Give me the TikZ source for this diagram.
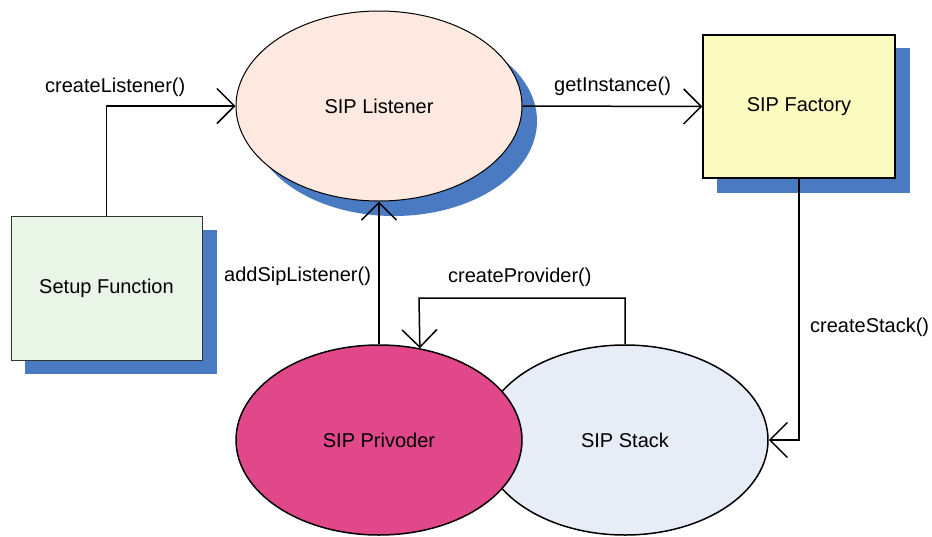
\documentclass[tikz,border=0pt]{standalone}
\usepackage{fontspec}
\setmainfont{Liberation Sans}
\usetikzlibrary{arrows.meta,shapes.geometric}

\definecolor{shadowblue}{HTML}{4A7AC2}
\definecolor{setupfill}{HTML}{E8F5E7}
\definecolor{listenerfill}{HTML}{FDE9DF}
\definecolor{factoryfill}{HTML}{FBFBC0}
\definecolor{providerfill}{HTML}{E0488A}
\definecolor{stackfill}{HTML}{E6EDF7}

\tikzset{
  every node/.style={font=\fontsize{20}{24}\selectfont},
  boxnode/.style={rectangle, inner sep=0pt},
  ovalnode/.style={ellipse, inner sep=0pt, minimum width=286pt, minimum height=190pt},
  shadowfill/.style={fill=shadowblue, draw=none},
  link/.style={line width=1.5pt, -{Straight Barb[length=17.5pt,width=35pt]}},
  lbl/.style={inner sep=0pt, anchor=base west}
}

\begin{document}
\begin{tikzpicture}[x=1pt,y=-1pt]
  \useasboundingbox (0,0) rectangle (932,536);

  % drop shadows
  \fill[shadowblue] (25,230) rectangle (217,374);
  \fill[shadowblue] (717,48) rectangle (910,193);
  \node[ovalnode, shadowfill] at (394,121) {};

  % main shapes
  \node[boxnode, draw=black!80, line width=1pt, fill=setupfill,
        minimum width=191pt, minimum height=144pt] (setup) at (106.5,288) {Setup Function};
  \node[ovalnode, draw=black, line width=1pt, fill=listenerfill] (listener) at (379,106) {SIP Listener};
  \node[boxnode, draw=black, line width=1.5pt, fill=factoryfill,
        minimum width=192pt, minimum height=143pt] (factory) at (799,106.5) {SIP Factory};
  \node[ovalnode, draw=black, line width=1.5pt, fill=stackfill] (stack) at (625,440) {SIP Stack};
  \node[ovalnode, draw=black, line width=1.5pt, fill=providerfill] (provider) at (379,440) {SIP Privoder};

  % connectors
  \coordinate (c1) at (setup.north |- listener.west);
  \draw[link] (setup.north) -- (c1) -- (listener.west);
  \draw[link] (listener.east) -- (factory.west);
  \coordinate (c2) at (factory.south |- stack.east);
  \draw[link] (factory.south) -- (c2) -- (stack.east);
  \draw[link] (provider.north) -- (listener.south);
  \coordinate (c3) at (stack.north |- 0,298);
  \coordinate (c4) at (419,298);
  \draw[link] (stack.north) -- (c3) -- (c4) -- (provider.66.3);

  % labels
  \node[lbl] (l1) at (45,92.3) {createListener()};
  \node[lbl] (l2) at (554,91.7) {getInstance()};
  \node[lbl] (l3) at (810,332.3) {createStack()};
  \node[lbl] (l4) at (224,281.7) {addSipListener()};
  \node[lbl] (l5) at (448,282.7) {createProvider()};
\end{tikzpicture}
\end{document}
